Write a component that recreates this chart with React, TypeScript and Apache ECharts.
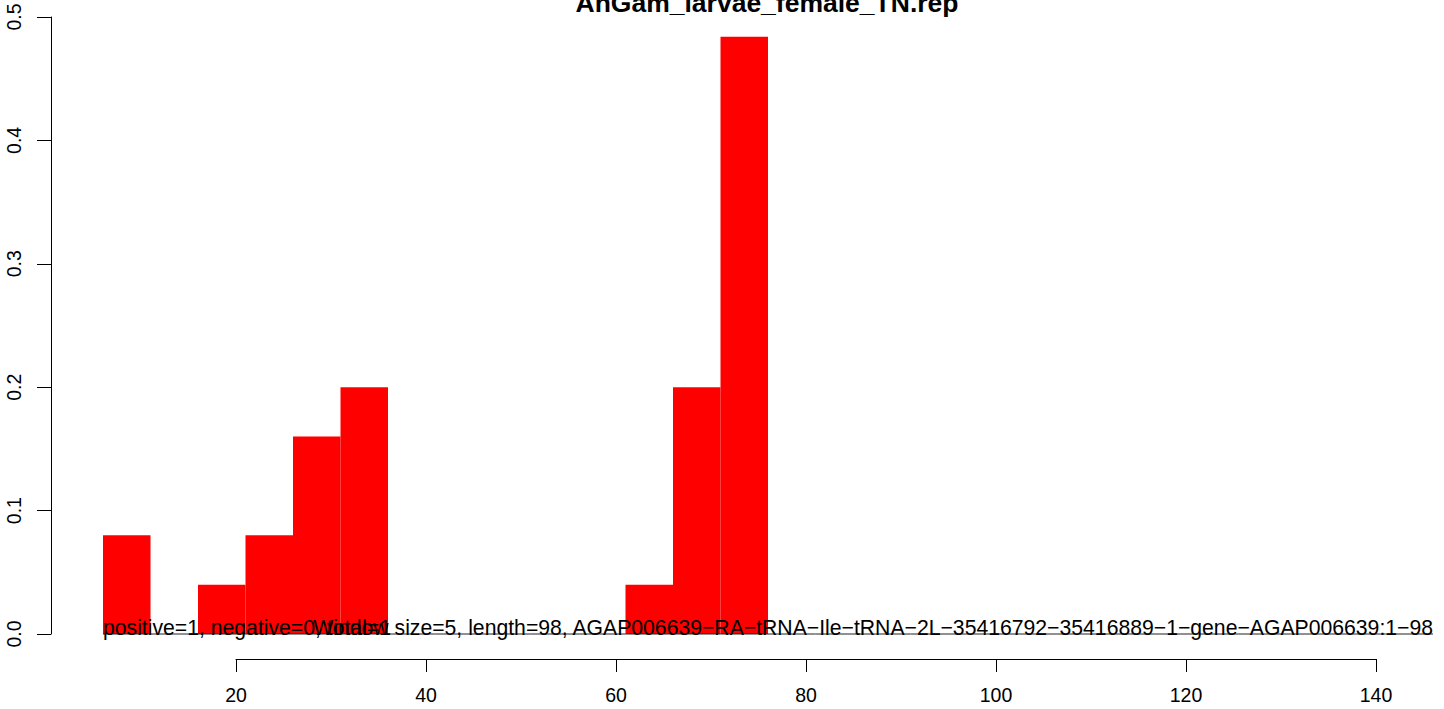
import { useEffect, useRef } from "react";
import * as echarts from "echarts";

const TITLE = "AnGam_larvae_female_TN.rep";
const BIN_WIDTH = 5;
const BIN_STARTS = [6, 11, 16, 21, 26, 31, 36, 41, 46, 51, 56, 61, 66, 71, 76, 81, 86, 91, 96, 101, 106, 111, 116, 121, 126, 131, 136, 141];
const POSITIVE = [0.08, 0, 0.04, 0.08, 0.16, 0.2, 0, 0, 0, 0, 0, 0.04, 0.2, 0.484, 0, 0, 0, 0, 0, 0, 0, 0, 0, 0, 0, 0, 0, 0];
const NEGATIVE = [0, 0, 0, 0, 0, 0, 0, 0, 0, 0, 0, 0, 0, 0, 0, 0, 0, 0, 0, 0, 0, 0, 0, 0, 0, 0, 0, 0];
const X_MIN = 20;
const X_MAX = 140;
const X_STEP = 20;
const Y_MIN = 0;
const Y_MAX = 0.5;
const Y_STEP = 0.1;
const ANNOTATIONS = [
  "positive=1, negative=0, total=1",
  "Window size=5, length=98, AGAP006639\u2212RA\u2212tRNA\u2212Ile\u2212tRNA\u22122L\u221235416792\u221235416889\u22121\u2212gene\u2212AGAP006639:1\u221298",
];
const ANNOTATION_X = [6, 146];

const FONT = "'Liberation Sans', Arial, Helvetica, sans-serif";

export default function App() {
  const ref = useRef<HTMLDivElement>(null);

  useEffect(() => {
    document.body.style.margin = "0";
    if (!ref.current) return;
    const chart = echarts.init(ref.current, undefined, { renderer: "svg" });
    const option: any = {
      animation: false,
      backgroundColor: "#ffffff",
      grid: [
        { left: 103, right: 11, top: 17, bottom: 75 },
        { left: 236, right: 68, top: 17, bottom: 50 },
      ],
      xAxis: [
        { gridIndex: 0, type: "value", min: 6, max: 146, show: false },
        {
          gridIndex: 1,
          type: "value",
          min: X_MIN,
          max: X_MAX,
          interval: X_STEP,
          axisLine: { show: true, onZero: false, lineStyle: { color: "#000", width: 1 } },
          axisTick: { show: true, length: 13, lineStyle: { color: "#000", width: 1 } },
          axisLabel: { fontSize: 19.5, color: "#000", margin: 26, fontFamily: FONT },
          splitLine: { show: false },
        },
      ],
      yAxis: [
        {
          gridIndex: 0,
          type: "value",
          min: Y_MIN,
          max: Y_MAX,
          interval: Y_STEP,
          offset: 52,
          axisLine: { show: true, lineStyle: { color: "#000", width: 1 } },
          axisTick: { show: true, length: 14, lineStyle: { color: "#000", width: 1 } },
          axisLabel: {
            rotate: 90,
            fontSize: 19.5,
            color: "#000",
            margin: 27,
            fontFamily: FONT,
            formatter: (v: number) => v.toFixed(1),
          },
          splitLine: { show: false },
        },
        { gridIndex: 1, type: "value", min: 0, max: 1, show: false },
      ],
      graphic: [
        {
          type: "text",
          x: 767,
          y: 2.8,
          style: {
            text: TITLE,
            align: "center",
            verticalAlign: "middle",
            fontSize: 26.5,
            fontWeight: "bold",
            fontFamily: FONT,
            fill: "#000",
          },
        },
      ],
      series: [
        {
          type: "custom",
          xAxisIndex: 0,
          yAxisIndex: 0,
          data: BIN_STARTS.map((s, i) => [s, s + BIN_WIDTH, POSITIVE[i]]),
          encode: { x: [0, 1], y: 2 },
          renderItem: (params: any, api: any) => {
            const v = api.value(2);
            if (!(v > 0)) return null;
            const p0 = api.coord([api.value(0), v]);
            const p1 = api.coord([api.value(1), 0]);
            return {
              type: "rect",
              shape: { x: p0[0], y: p0[1], width: p1[0] - p0[0], height: p1[1] - p0[1] },
              style: { fill: "#FF0000" },
            };
          },
        },
        {
          type: "custom",
          xAxisIndex: 0,
          yAxisIndex: 0,
          data: BIN_STARTS.map((s, i) => [s, s + BIN_WIDTH, NEGATIVE[i]]),
          encode: { x: [0, 1], y: 2 },
          renderItem: (params: any, api: any) => {
            const p0 = api.coord([api.value(0), api.value(2)]);
            const p1 = api.coord([api.value(1), api.value(2)]);
            return {
              type: "line",
              shape: { x1: p0[0], y1: p0[1], x2: p1[0], y2: p1[1] },
              style: { stroke: "#222", lineWidth: 1 },
            };
          },
        },
        {
          type: "custom",
          xAxisIndex: 0,
          yAxisIndex: 0,
          data: ANNOTATION_X.map((x) => [x, 0]),
          encode: { x: 0, y: 1 },
          renderItem: (params: any, api: any) => {
            const p = api.coord([api.value(0), api.value(1)]);
            return {
              type: "text",
              x: p[0],
              y: p[1] - 7,
              style: {
                text: ANNOTATIONS[params.dataIndex],
                align: params.dataIndex === 0 ? "left" : "right",
                verticalAlign: "middle",
                fontSize: 21.2,
                fontFamily: FONT,
                fill: "#000",
              },
            };
          },
        },
      ],
    };
    chart.setOption(option);
    return () => chart.dispose();
  }, []);

  return <div ref={ref} style={{ width: 1444, height: 709 }} />;
}
